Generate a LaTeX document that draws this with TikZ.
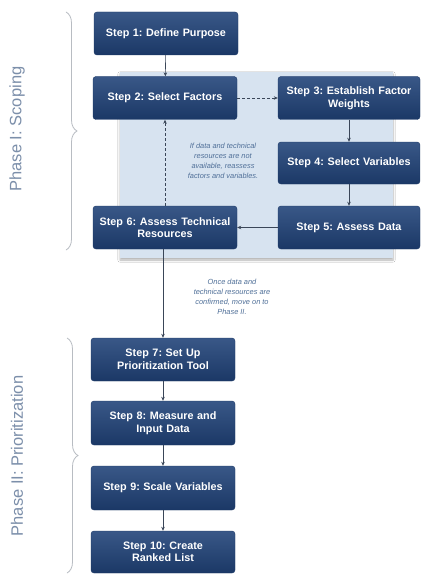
\documentclass[tikz,border=0pt]{standalone}
\usepackage{fontspec}
\setmainfont{Liberation Sans}
\usetikzlibrary{arrows.meta,decorations.pathreplacing,shadows.blur}
\definecolor{boxblue}{HTML}{23457A}
\definecolor{boxblueD}{HTML}{1B3866}
\definecolor{bgblue}{HTML}{D7E3F0}
\definecolor{notecol}{HTML}{4F6F98}
\definecolor{phasecol}{HTML}{7C8FAA}
\definecolor{bracecol}{HTML}{B8BCC2}
\definecolor{arrowcol}{HTML}{3A4658}
\frenchspacing
\begin{document}
\begin{tikzpicture}[x=1pt,y=-1pt,
  stepbox/.style={draw=boxblueD, line width=0.4pt, rounded corners=3pt,
    top color=boxblue!90!white, bottom color=boxblueD, text=white,
    font=\fontsize{10.8}{12.5}\selectfont\bfseries, align=center,
    inner sep=1pt, minimum width=144pt, minimum height=43pt, text width=140pt},
  note/.style={text=notecol, font=\fontsize{7.4}{10}\selectfont\itshape, align=center},
  phase/.style={text=phasecol, font=\fontsize{16.5}{18}\selectfont, rotate=90},
  conn/.style={draw=arrowcol, line width=0.6pt, -{Stealth[length=4pt,width=3.5pt]}},
  dconn/.style={conn, dash pattern=on 3pt off 2pt},
  bracestyle/.style={draw=bracecol, line width=0.8pt, decorate,
    decoration={brace, amplitude=11pt}}]
\useasboundingbox (0,0) rectangle (421,575);
\fill[white] (0,0) rectangle (421,575);

% background panel
\fill[bgblue, blur shadow={shadow xshift=0pt, shadow yshift=-2pt, shadow blur steps=6, shadow opacity=30}] (120,72) rectangle (393,258);

% steps
\node[stepbox] (s1) at (166,33.5) {Step 1: Define Purpose};
\node[stepbox] (s2) at (165,98) {Step 2: Select Factors};
\node[stepbox, minimum width=142pt] (s3) at (349,98) {Step 3: Establish Factor\\Weights};
\node[stepbox, minimum width=142pt, minimum height=42pt] (s4) at (349,163) {Step 4: Select Variables};
\node[stepbox, minimum width=142pt] (s5) at (349,227.5) {Step 5: Assess Data};
\node[stepbox] (s6) at (165,227.5) {Step 6: Assess Technical\\Resources};
\node[stepbox] (s7) at (163,359.5) {Step 7: Set Up\\Prioritization Tool};
\node[stepbox, minimum height=44pt] (s8) at (163,423) {Step 8: Measure and\\Input Data};
\node[stepbox, minimum height=44pt] (s9) at (163,488) {Step 9: Scale Variables};
\node[stepbox, minimum height=42pt] (s10) at (163,552) {Step 10: Create\\Ranked List};

% notes
\node[note] (n1) at (223,161) {If data and technical\\resources are not\\available, reassess\\factors and variables.};
\node[note] (n2) at (232,297) {Once data and\\technical resources are\\confirmed, move on to\\Phase II.};

% connectors
\draw[conn] (s1) -- (s2);
\draw[dconn] (s2) -- (s3);
\draw[conn] (s3) -- (s4);
\draw[conn] (s4) -- (s5);
\draw[conn] (s5) -- (s6);
\draw[dconn] (s6) -- (s2);
\draw[conn] (s6.south -| s7.north) -- (s7.north);
\draw[conn] (s7) -- (s8);
\draw[conn] (s8) -- (s9);
\draw[conn] (s9) -- (s10);

% braces
\coordinate (b1t) at (66,12);
\coordinate (b1b) at (66,250);
\coordinate (b2t) at (67,338);
\coordinate (b2b) at (67,573);
\draw[bracestyle] (b1t) -- (b1b);
\draw[bracestyle] (b2t) -- (b2b);

% phase labels
\node[phase] (p1) at (17,129) {Phase I: Scoping};
\node[phase] (p2) at (17,456) {Phase II: Prioritization};
\end{tikzpicture}
\end{document}
